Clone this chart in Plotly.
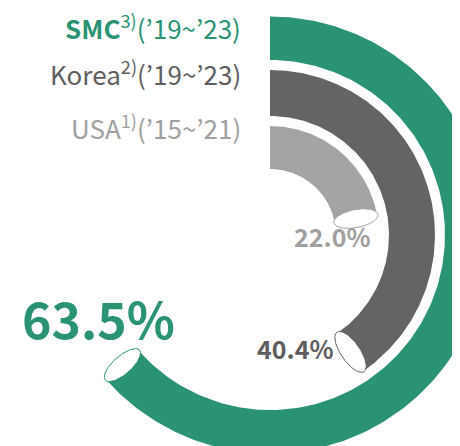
import numpy as np
import plotly.graph_objects as go

# ---- data ----
series = ["SMC", "Korea", "USA"]
notes = ["3)", "2)", "1)"]
periods = ["(’19~’23)", "(’19~’23)", "(’15~’21)"]
values = [63.5, 40.4, 22.0]
value_labels = ["63.5%", "40.4%", "22.0%"]

# ---- styling ----
colors = ["#2A9373", "#646464", "#A3A5A4"]
text_colors = ["#2A9373", "#5E5E5E", "#A0A0A0"]
radii = [(175, 218.5), (119, 165), (66, 109)]
label_y = [209, 163, 109]
pct_pos = [(-172, -82, 50), (25, -113, 25), (62, -1, 25)]
FONT = "Noto Sans CJK KR"

fig = go.Figure()


def angle_of(v):
    return np.deg2rad(v / 100.0 * 360.0)


for i, v in enumerate(values):
    r0, r1 = radii[i]
    th_end = angle_of(v)
    th = np.linspace(0, th_end, 240)
    xo, yo = r1 * np.sin(th), r1 * np.cos(th)
    xi, yi = r0 * np.sin(th[::-1]), r0 * np.cos(th[::-1])
    xs = np.concatenate([xo, xi, xo[:1]])
    ys = np.concatenate([yo, yi, yo[:1]])
    fig.add_trace(go.Scatter(x=xs, y=ys, fill="toself", fillcolor=colors[i],
                             mode="lines", line=dict(width=0, color=colors[i]),
                             hoverinfo="skip", showlegend=False))
    # tube-end ellipse
    rm = (r0 + r1) / 2
    a = (r1 - r0) / 2 + 1
    b = a * 0.4
    t = np.linspace(0, 2 * np.pi, 120)
    ur = np.array([np.sin(th_end), np.cos(th_end)])      # radial dir
    ut = np.array([np.cos(th_end), -np.sin(th_end)])     # tangential dir
    cx, cy = rm * ur
    ex = cx + a * np.cos(t) * ur[0] + b * np.sin(t) * ut[0]
    ey = cy + a * np.cos(t) * ur[1] + b * np.sin(t) * ut[1]
    fig.add_trace(go.Scatter(x=ex, y=ey, fill="toself", fillcolor="white",
                             mode="lines", line=dict(width=1, color=colors[i]),
                             hoverinfo="skip", showlegend=False))
    # series label
    name = f"<b>{series[i]}</b>" if i == 0 else series[i]
    fig.add_annotation(x=-27, y=label_y[i], xref="x", yref="y",
                       text=f"{name}<sup>{notes[i]}</sup>{periods[i]}",
                       showarrow=False, xanchor="right", yanchor="middle",
                       font=dict(family=FONT, size=26, color=text_colors[i]))
    px, py, fs = pct_pos[i]
    fig.add_annotation(x=px, y=py, xref="x", yref="y", text=f"<b>{value_labels[i]}</b>",
                       showarrow=False, xanchor="center", yanchor="middle",
                       font=dict(family=FONT, size=fs, color=text_colors[i]))

fig.update_layout(
    width=460, height=446,
    margin=dict(l=0, r=0, t=0, b=0),
    paper_bgcolor="white", plot_bgcolor="white",
    xaxis=dict(range=[-262, 198], visible=False, fixedrange=True),
    yaxis=dict(range=[-219, 227], visible=False, fixedrange=True),
)
fig.write_html("out.html")
